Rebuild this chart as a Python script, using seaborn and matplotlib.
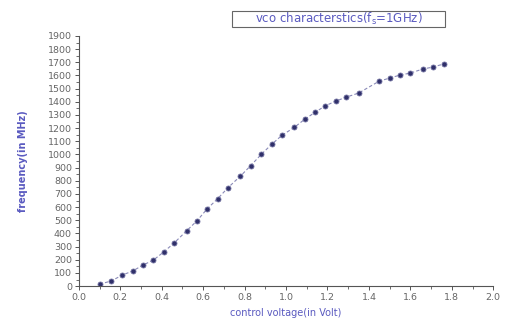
import numpy as np
import pandas as pd
import seaborn as sns
import matplotlib.pyplot as plt
from matplotlib.patches import Rectangle
from matplotlib.ticker import MultipleLocator

# --- data (control voltage vs. frequency) ---
voltage = [0.10, 0.155, 0.21, 0.26, 0.31, 0.36, 0.41, 0.46, 0.52, 0.57,
           0.62, 0.67, 0.72, 0.78, 0.83, 0.88, 0.93, 0.98, 1.04, 1.09,
           1.14, 1.19, 1.24, 1.29, 1.35, 1.45, 1.50, 1.55, 1.60, 1.66,
           1.71, 1.76]
frequency = [15, 38, 84, 115, 160, 198, 260, 328, 420, 496,
             588, 664, 748, 836, 916, 1000, 1076, 1145, 1206, 1267,
             1320, 1370, 1405, 1435, 1466, 1557, 1580, 1603, 1618, 1649,
             1664, 1687]

x_ticks = [0.0, 0.2, 0.4, 0.6, 0.8, 1.0, 1.2, 1.4, 1.6, 1.8, 2.0]
y_ticks = list(range(0, 2000, 100))

TITLE = r"vco characterstics(f$_\mathrm{s}$=1GHz)"
XLABEL = "control voltage(in Volt)"
YLABEL = "frequency(in MHz)"

LABEL_COLOR = "#5a5ac0"
MARK_COLOR = "#30306a"
TICK_COLOR = "#666666"


def main():
    sns.set_theme(style="ticks")
    plt.rcParams['font.family'] = ['DejaVu Sans']

    df = pd.DataFrame({'Voltage': voltage, 'Frequency': frequency})

    fig = plt.figure(figsize=(5.09, 3.24), dpi=100)
    ax = fig.add_axes([0.155, 0.117, 0.814, 0.772])

    sns.lineplot(data=df, x='Voltage', y='Frequency', ax=ax,
                 color='#8a8ab8', linewidth=0.8, linestyle=(0, (3, 2)),
                 marker='o', markersize=3.6, markerfacecolor=MARK_COLOR,
                 markeredgecolor='#7070a0', markeredgewidth=0.6,
                 errorbar=None)

    ax.set_xlim(0.0, 2.0)
    ax.set_ylim(0, 1900)
    ax.set_xticks(x_ticks)
    ax.set_xticklabels([f"{t:.1f}" for t in x_ticks])
    ax.set_yticks(y_ticks)
    ax.xaxis.set_minor_locator(MultipleLocator(0.1))
    ax.yaxis.set_minor_locator(MultipleLocator(50))

    for s in ['top', 'right']:
        ax.spines[s].set_visible(False)
    for s in ['left', 'bottom']:
        ax.spines[s].set_color('#555555')
        ax.spines[s].set_linewidth(0.8)

    ax.tick_params(axis='both', which='major', labelsize=6.8,
                   labelcolor=TICK_COLOR, color='#555555',
                   length=3, width=0.7, direction='out', pad=2)
    ax.tick_params(axis='both', which='minor', color='#555555',
                   length=2, width=0.6, direction='out')

    ax.set_xlabel(XLABEL, fontsize=7, color=LABEL_COLOR, labelpad=4)
    ax.set_ylabel(YLABEL, fontsize=7, color=LABEL_COLOR, labelpad=14,
                  fontweight='bold')

    # boxed title, as in the reference
    fig.patches.append(Rectangle((232 / 509, 1 - 27 / 324), 213 / 509, 16 / 324,
                                 transform=fig.transFigure, facecolor='white',
                                 edgecolor='#666666', linewidth=0.8))
    fig.text(338.5 / 509, 1 - 19 / 324, TITLE, fontsize=8.5, color=LABEL_COLOR,
             ha='center', va='center')

    fig.savefig('out.png', dpi=100)
    plt.close(fig)


if __name__ == "__main__":
    main()
